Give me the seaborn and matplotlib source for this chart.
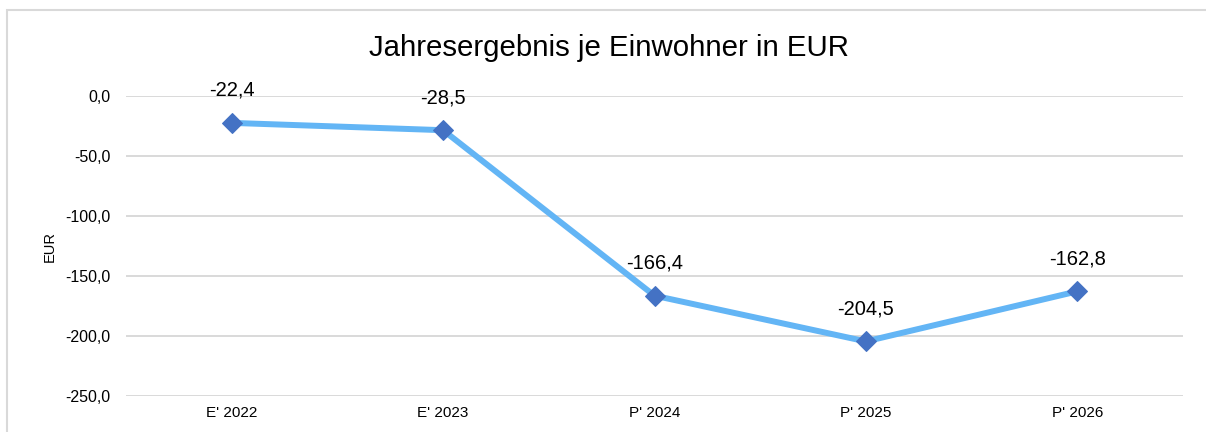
import matplotlib
matplotlib.use("Agg")
import matplotlib.pyplot as plt
import seaborn as sns
import pandas as pd
from matplotlib.patches import Rectangle

categories = ["E' 2022", "E' 2023", "P' 2024", "P' 2025", "P' 2026"]
values = [-22.4, -28.5, -166.4, -204.5, -162.8]
yticks = [0, -50, -100, -150, -200, -250]

sns.set_theme(style="white")
plt.rcParams['font.family'] = ['Liberation Sans', 'DejaVu Sans']
plt.rcParams['text.color'] = 'black'
plt.rcParams['xtick.color'] = 'black'
plt.rcParams['ytick.color'] = 'black'
plt.rcParams['axes.labelcolor'] = 'black'

df = pd.DataFrame({"cat": categories, "val": values})
df["x"] = range(len(df))

fig = plt.figure(figsize=(12.06, 4.32), dpi=100)
ax = fig.add_axes([126/1206, 36/432, (1183-126)/1206, 300/432])

for t in yticks:
    ax.axhline(t, color="#D9D9D9", lw=1.4, zorder=0)

sns.lineplot(data=df, x="x", y="val", ax=ax, color="#63B5F5", lw=4.3,
             marker="D", markersize=10, markerfacecolor="#4472C4",
             markeredgecolor="#4472C4", zorder=3)

for i, v in enumerate(values):
    ax.annotate(f"{v:.1f}".replace(".", ","), (i, v), xytext=(0, 23.5),
                textcoords="offset points", ha="center", va="center",
                fontsize=14.5, color="black")

ax.set_xlim(-0.5, 4.5)
ax.set_ylim(-250, 0)
ax.set_xticks(range(len(categories)))
ax.set_xticklabels(categories, fontsize=11)
ax.set_yticks(yticks)
ax.set_yticklabels([f"{t:.1f}".replace(".", ",") for t in yticks], fontsize=11.5)
ax.tick_params(axis="x", length=0, pad=7)
ax.tick_params(axis="y", length=0, pad=11)
for s in ax.spines.values():
    s.set_visible(False)
ax.set_xlabel("")
ax.set_ylabel("EUR", fontsize=10.5, labelpad=6)
ax.patch.set_alpha(0)

fig.text(609/1206, 1 - 48/432, "Jahresergebnis je Einwohner in EUR", ha="center",
         va="center", fontsize=21.2, color="black")

fig.add_artist(Rectangle((7/1206, -0.1), 1.2, 1 - 10/432 + 0.1,
                         transform=fig.transFigure, fill=False,
                         edgecolor="#D9D9D9", lw=1.5, zorder=-1))

fig.savefig("out.png", dpi=100)
